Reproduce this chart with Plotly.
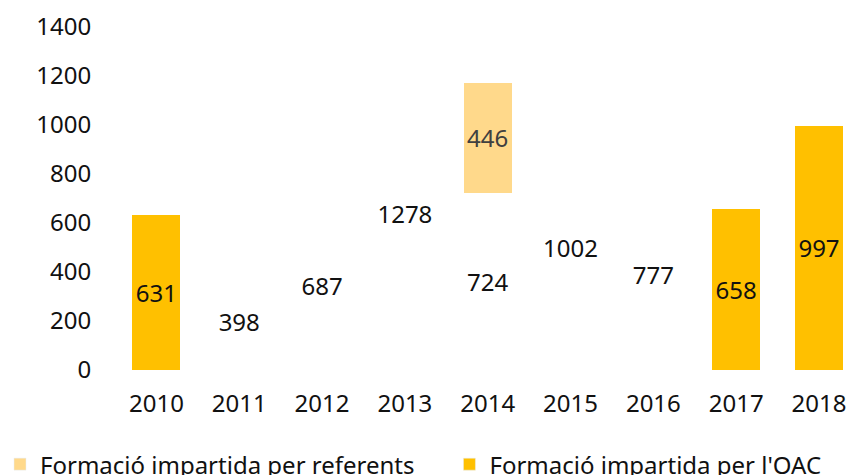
import plotly.graph_objects as go

years = ["2010", "2011", "2012", "2013", "2014", "2015", "2016", "2017", "2018"]
oac = [631, 398, 687, 1278, 724, 1002, 777, 658, 997]
referents = [0, 0, 0, 0, 446, 0, 0, 0, 0]
oac_visible = [True, False, False, False, False, False, False, True, True]

C_OAC = "#FFC000"
C_REF = "#FFD98B"
FONT = "Noto Sans"
FS = 24

oac_colors = [C_OAC if v else "rgba(0,0,0,0)" for v in oac_visible]
ref_text = [str(v) if v else "" for v in referents]

fig = go.Figure()
fig.add_trace(go.Bar(
    name="Formació impartida per l'OAC", x=years, y=oac,
    marker=dict(color=oac_colors, line=dict(width=0)),
    text=[str(v) for v in oac], textposition="inside", insidetextanchor="middle",
    textangle=0, constraintext="none",
    insidetextfont=dict(size=FS, color="#111111", family=FONT),
    showlegend=False))
fig.add_trace(go.Bar(
    name="Formació impartida per referents", x=years, y=referents,
    marker=dict(color=C_REF, line=dict(width=0)),
    text=ref_text, textposition="inside", insidetextanchor="middle",
    textangle=0, constraintext="none",
    insidetextfont=dict(size=FS, color="#404040", family=FONT),
    showlegend=False))
fig.add_trace(go.Bar(
    name="Formació impartida per referents", x=years, y=[None]*len(years),
    marker_color=C_REF, showlegend=True, hoverinfo="skip", legend="legend"))
fig.add_trace(go.Bar(
    name="Formació impartida per l'OAC", x=years, y=[None]*len(years),
    marker_color=C_OAC, showlegend=True, hoverinfo="skip", legend="legend2"))

fig.update_layout(
    width=848, height=475,
    barmode="stack", bargap=0.42,
    paper_bgcolor="white", plot_bgcolor="white",
    font=dict(family=FONT, size=FS, color="#111111"),
    margin=dict(l=115, r=0, t=27, b=105, autoexpand=False),
    legend=dict(orientation="h", xref="container", yref="container",
                x=-0.015, xanchor="left", y=0.022, yanchor="middle",
                font=dict(size=FS), itemwidth=30, bgcolor="rgba(0,0,0,0)"),
    legend2=dict(orientation="h", xref="container", yref="container",
                 x=0.53, xanchor="left", y=0.022, yanchor="middle",
                 font=dict(size=FS), itemwidth=30, bgcolor="rgba(0,0,0,0)"),
    uniformtext=dict(mode=False),
)
fig.update_xaxes(range=[-0.5, 8.35], showgrid=False, showline=False, zeroline=False,
                 ticks="outside", ticklen=12, tickcolor="rgba(0,0,0,0)",
                 tickfont=dict(size=FS))
fig.update_yaxes(range=[0, 1400], dtick=200, showgrid=False, showline=False, zeroline=False,
                 ticks="outside", ticklen=18, tickcolor="rgba(0,0,0,0)",
                 tickfont=dict(size=FS))

fig.write_html("out.html", config={"displayModeBar": False},
               post_script="document.body.style.margin='0';document.body.style.overflow='hidden';")
